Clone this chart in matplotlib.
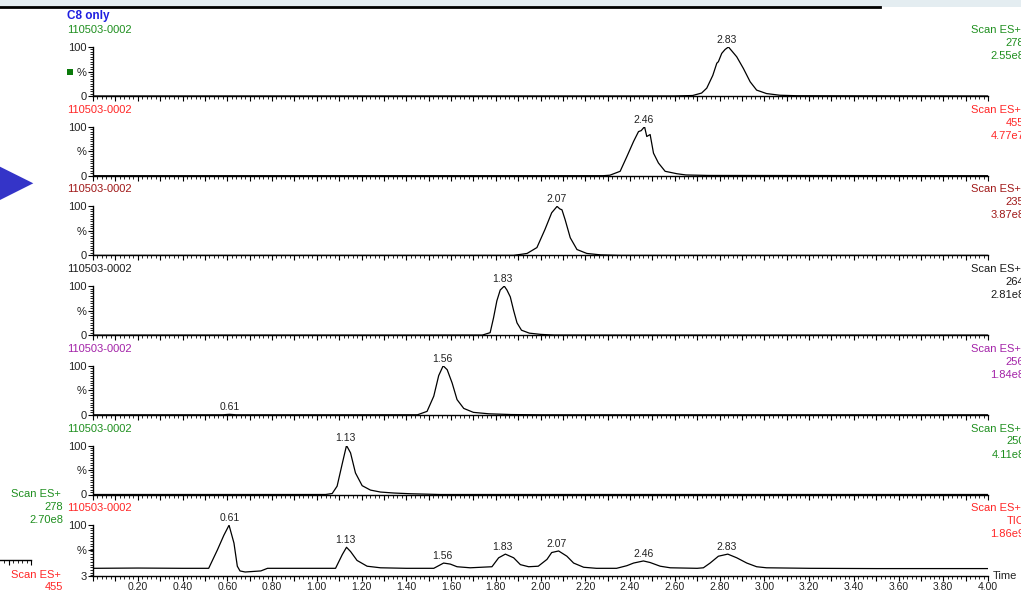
import numpy as np
import matplotlib
matplotlib.use("Agg")
import matplotlib.pyplot as plt
from matplotlib.patches import Rectangle, Polygon
from matplotlib.ticker import MultipleLocator, FixedLocator, FuncFormatter

plt.rcParams['font.family'] = ['Liberation Sans', 'DejaVu Sans']

W, H = 1021, 590

# ---- data: retention time (min) vs relative intensity (%) per trace ----
t_278 = [0.00, 2.60, 2.68, 2.72, 2.743, 2.77, 2.788, 2.795, 2.81, 2.825, 2.84, 2.855,
         2.877, 2.907, 2.937, 2.966, 3.01, 3.07, 3.15, 4.00]
i_278 = [0, 0, 1, 6, 16, 42, 67, 70, 87, 95, 100, 92, 80, 56, 29, 12, 5, 1.5, 0.5, 0]

t_455 = [0.00, 2.28, 2.31, 2.356, 2.386, 2.416, 2.438, 2.45, 2.465, 2.475, 2.49, 2.505,
         2.527, 2.557, 2.61, 2.65, 2.75, 4.00]
i_455 = [0, 0, 1, 9, 39, 70, 90, 92, 100, 80, 84, 46, 26, 9, 4, 1.5, 0.5, 0]

t_235 = [0.00, 1.88, 1.94, 1.984, 2.02, 2.05, 2.074, 2.086, 2.096, 2.11, 2.133, 2.163,
         2.207, 2.27, 2.35, 4.00]
i_235 = [0, 0, 4, 16, 53, 87, 100, 95, 93, 73, 36, 12, 4, 1, 0, 0]

t_264 = [0.00, 1.74, 1.775, 1.79, 1.805, 1.82, 1.838, 1.85, 1.865, 1.88, 1.895, 1.915,
         1.95, 2.00, 2.06, 4.00]
i_264 = [0, 0, 5, 35, 70, 92, 100, 92, 78, 50, 25, 10, 4, 1.5, 0, 0]

t_256 = [0.00, 0.58, 0.61, 0.64, 1.45, 1.493, 1.523, 1.545, 1.565, 1.583, 1.605, 1.627,
         1.657, 1.70, 1.77, 1.87, 2.00, 4.00]
i_256 = [0, 0, 1, 0, 0, 7, 38, 80, 100, 92, 65, 31, 13, 5, 2, 0.5, 0, 0]

t_250 = [0.00, 1.04, 1.069, 1.091, 1.114, 1.133, 1.151, 1.173, 1.203, 1.24, 1.285,
         1.345, 1.42, 1.55, 4.00]
i_250 = [0, 0, 2, 17, 63, 100, 85, 44, 18, 9, 5, 3, 1.5, 0, 0]

t_tic = [0.00, 0.20, 0.40, 0.517, 0.556, 0.585, 0.608, 0.63, 0.645, 0.657, 0.68, 0.75,
         0.78, 0.90, 1.084, 1.114, 1.133, 1.151, 1.18, 1.225, 1.285, 1.40, 1.523, 1.545,
         1.567, 1.597, 1.627, 1.686, 1.783, 1.813, 1.843, 1.88, 1.91, 1.947, 1.99, 2.029,
         2.05, 2.081, 2.118, 2.148, 2.193, 2.25, 2.34, 2.386, 2.416, 2.46, 2.49, 2.535,
         2.58, 2.70, 2.728, 2.758, 2.795, 2.837, 2.877, 2.922, 2.966, 3.01, 3.20, 3.50,
         3.80, 4.00]
i_tic = [18, 18.5, 18, 18, 53, 81, 100, 66, 22, 13, 11, 13, 18, 18, 18, 44, 58, 50, 33,
         22, 19, 18, 18, 23, 28, 26, 21, 19, 21, 38, 45, 38, 25, 21, 22, 35, 48, 51, 41,
         28, 20, 18, 18, 23, 28, 32, 29, 22, 19, 18, 19, 28, 41, 45, 38, 28, 21, 19, 18,
         17.5, 17.5, 17.5]

times = [t_278, t_455, t_235, t_264, t_256, t_250, t_tic]
intens = [i_278, i_455, i_235, i_264, i_256, i_250, i_tic]
masses = ['278', '455', '235', '264', '256', '250', 'TIC']
scales = ['2.55e8', '4.77e7', '3.87e8', '2.81e8', '1.84e8', '4.11e8', '1.86e9']
peak_labels = [
    [2.83],
    [2.46],
    [2.07],
    [1.83],
    [0.61, 1.56],
    [1.13],
    [0.61, 1.13, 1.56, 1.83, 2.07, 2.46, 2.83],
]
sample_id = '110503-0002'
colors = ['#1f8f1f', '#ff2626', '#a01818', '#1a1a1a', '#a323a8', '#1f8f1f', '#ff2626']


def fx(x):
    return x / W


def fy(y):
    return 1 - y / H


fig = plt.figure(figsize=(W / 100, H / 100), dpi=100)

# header strip and frame line
fig.add_artist(Rectangle((0, fy(7)), 1, 7 / H, transform=fig.transFigure,
                         color='#e4edf1', lw=0, zorder=0))
fig.text(fx(67), fy(15.5), 'C8 only', color='#1e1ee0', fontsize=8.5, fontweight='bold',
         ha='left', va='center', zorder=1,
         bbox=dict(facecolor='white', edgecolor='none', pad=1.2))
fig.add_artist(plt.Line2D([0, fx(880)], [fy(7), fy(7)], transform=fig.transFigure,
                          color='black', lw=2, zorder=5))

# blue arrow on the left
fig.add_artist(Polygon([(0, fy(166.7)), (fx(33.3), fy(183.3)), (0, fy(200))], closed=True,
                       transform=fig.transFigure, color='#3434c8', lw=0))

x0, x1 = 93, 988
step = 79.7
for k in range(7):
    top = 47 + step * k
    h = 49 if k < 6 else 51
    ax = fig.add_axes([fx(x0), fy(top + h), (x1 - x0) / W, h / H])
    t = np.array(times[k])
    y = np.array(intens[k])
    ax.plot(t, y, color='black', lw=0.9)
    ax.set_xlim(0, 4.0)
    ymin = 0 if k < 6 else 3
    ax.set_ylim(ymin, 100)
    for s in ['top', 'right']:
        ax.spines[s].set_visible(False)
    for s in ['left', 'bottom']:
        ax.spines[s].set_linewidth(1.0)
    ax.patch.set_alpha(0)

    mid = 50 if k < 6 else 52
    ax.yaxis.set_major_locator(FixedLocator([ymin, mid, 100]))
    ax.set_yticklabels(['0' if k < 6 else '3', '%', '100'])
    ax.yaxis.set_minor_locator(MultipleLocator(5))
    ax.tick_params(axis='y', which='major', length=3.5, width=0.8, pad=1,
                   labelsize=8, labelcolor='#222222')
    ax.tick_params(axis='y', which='minor', length=2, width=0.6)

    ax.xaxis.set_major_locator(MultipleLocator(0.1))
    ax.xaxis.set_minor_locator(MultipleLocator(0.02))
    ax.tick_params(axis='x', which='major', length=3.5, width=0.8, pad=0.5,
                   labelsize=7.5, labelcolor='#222222')
    ax.tick_params(axis='x', which='minor', length=2, width=0.6)
    if k == 6:
        ax.xaxis.set_major_formatter(FuncFormatter(
            lambda v, p: f"{v:.2f}" if (v > 0.01 and round(v * 10) % 2 == 0) else ""))
    else:
        ax.set_xticklabels([])

    for rt in peak_labels[k]:
        near = np.abs(t - rt) < 0.04
        ypk = y[near].max() if near.any() else np.interp(rt, t, y)
        ax.annotate(f"{rt:.2f}", xy=(rt, ypk), xytext=(0, 1.5), textcoords='offset points',
                    ha='center', va='bottom', fontsize=7.5, color='#222222')

    ty = 30 + step * k
    fig.text(fx(67), fy(ty), sample_id, color=colors[k], fontsize=8, ha='left', va='center')
    fig.text(fx(1021), fy(ty), "Scan ES+", color=colors[k], fontsize=8,
             ha='right', va='center')
    fig.text(fx(1024.5), fy(ty + 13), masses[k], color=colors[k], fontsize=8,
             ha='right', va='center')
    fig.text(fx(1024.5), fy(ty + 26), scales[k], color=colors[k], fontsize=8,
             ha='right', va='center')

# green marker next to first trace
fig.add_artist(Rectangle((fx(67.3), fy(75.3)), 6 / W, 6 / H, transform=fig.transFigure,
                         color='#0b7a0b', lw=0))

fig.text(fx(993), fy(576), 'Time', fontsize=8, ha='left', va='center', color='#222222')

# leftover fragments of a neighbouring panel at bottom left
fig.text(fx(61), fy(494), "Scan ES+", color='#1f8f1f', fontsize=8, ha='right', va='center')
fig.text(fx(63.5), fy(507), "278", color='#1f8f1f', fontsize=8, ha='right', va='center')
fig.text(fx(63.5), fy(520), "2.70e8", color='#1f8f1f', fontsize=8, ha='right', va='center')
axf = fig.add_axes([0, fy(560), 31 / W, 0.001])
axf.set_xlim(4.0 - 31 / 224, 4.0)
axf.set_yticks([])
for s in ['top', 'right', 'left']:
    axf.spines[s].set_visible(False)
axf.spines['bottom'].set_linewidth(1.0)
axf.patch.set_alpha(0)
axf.xaxis.set_major_locator(MultipleLocator(0.1))
axf.xaxis.set_minor_locator(MultipleLocator(0.02))
axf.set_xticklabels([])
axf.tick_params(axis='x', which='major', length=3.5, width=0.8)
axf.tick_params(axis='x', which='minor', length=2, width=0.6)
fig.text(fx(61), fy(575), "Scan ES+", color='#ff2626', fontsize=8, ha='right', va='center')
fig.text(fx(63.5), fy(587.5), "455", color='#ff2626', fontsize=8, ha='right', va='center')

fig.savefig('out.png', dpi=100)
